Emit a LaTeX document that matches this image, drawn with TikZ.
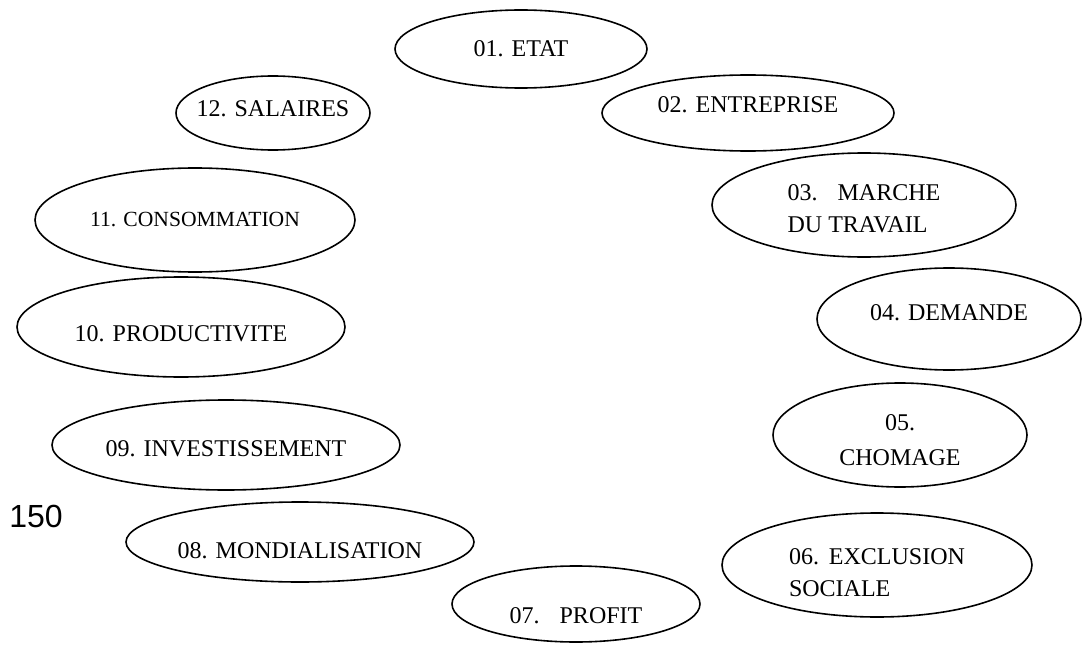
\documentclass[tikz,border=0pt]{standalone}
\usepackage{fontspec}
\setmainfont{Liberation Serif}
\newfontfamily\pagefont{Liberation Sans}
\usepackage{tikz}
\usetikzlibrary{shapes}

\begin{document}
\begin{tikzpicture}[x=0.5pt, y=-0.5pt]
        \tikzstyle{bubble} = [ellipse, draw, line width=0.8pt, inner ysep=0pt, inner xsep=-20pt,
            font=\fontsize{12}{16}\selectfont]
        \useasboundingbox (0,0) rectangle (1082,647);

        \node [bubble, minimum width=126pt, minimum height=39pt] (etat) at (521,49) {01. ETAT};
        \node [bubble, minimum width=146pt, minimum height=38pt, text depth=8pt] (entreprise) at (748,113) {02. ENTREPRISE};
        \node [bubble, minimum width=152pt, minimum height=52pt, align=left, text height=28pt] (marche) at (864,205) {03.\hspace{10pt}MARCHE\\DU TRAVAIL};
        \node [bubble, minimum width=132pt, minimum height=51pt, text depth=6pt] (demande) at (949,319) {04. DEMANDE};
        \node [bubble, minimum width=127pt, minimum height=52pt, align=center, text height=31pt] (chomage) at (900,435) {05.\\[1.5pt]CHOMAGE};
        \node [bubble, minimum width=155pt, minimum height=52pt, align=left, text height=32pt] (exclusion) at (877,565) {06.\hspace{5pt}EXCLUSION\\SOCIALE};
        \node [bubble, minimum width=124pt, minimum height=38pt, text height=20pt] (profit) at (576,604) {07.\hspace{10pt}PROFIT};
        \node [bubble, minimum width=174pt, minimum height=40pt, text height=17pt] (mondial) at (300,542) {08. MONDIALISATION};
        \node [bubble, minimum width=174pt, minimum height=45pt, text height=12pt] (invest) at (226,445) {09. INVESTISSEMENT};
        \node [bubble, minimum width=164pt, minimum height=50pt, text height=15pt] (product) at (181,327) {10.\hspace{4pt}PRODUCTIVITE};
        \node [bubble, minimum width=160pt, minimum height=52pt, font=\fontsize{10.8}{13}\selectfont] (consom) at (195,220) {11. CONSOMMATION};
        \node [bubble, minimum width=97pt, minimum height=37pt, text depth=4pt] (salaires) at (273,113) {12. SALAIRES};

        \node [font=\pagefont\fontsize{16}{18}\selectfont] (page) at (36,516) {150};
\end{tikzpicture}
\end{document}
